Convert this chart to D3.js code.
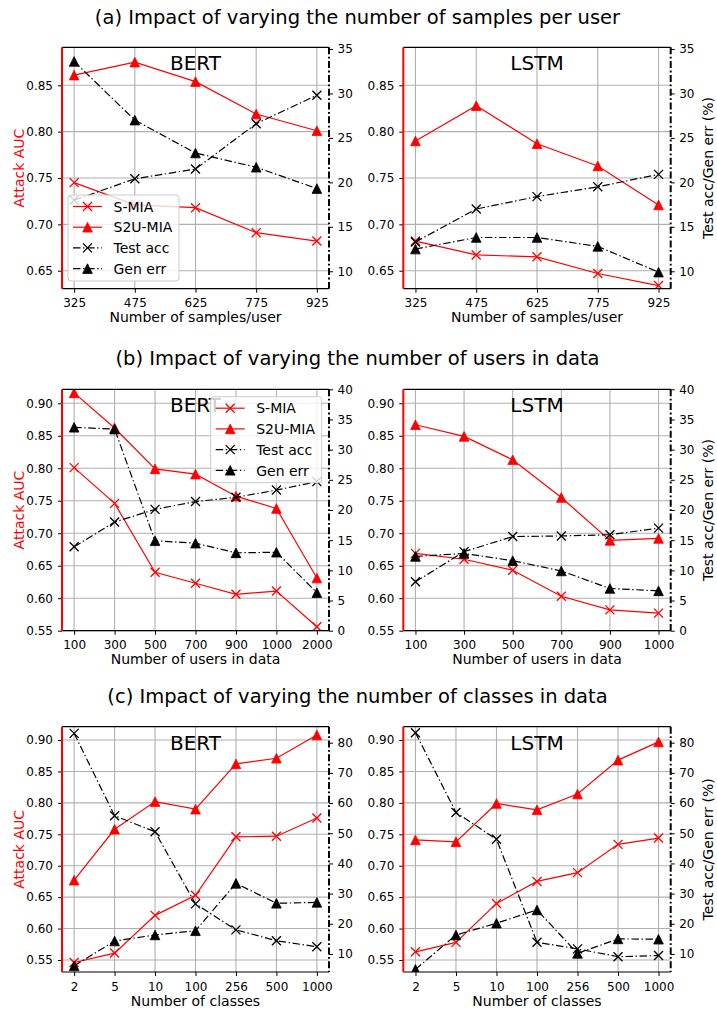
<!DOCTYPE html>
<html><head><meta charset="utf-8">
<script src="https://cdn.jsdelivr.net/npm/d3@7"></script>
<style>
body{margin:0;background:#fff}
svg{display:block}
text{font-family:"DejaVu Sans",sans-serif}
</style>
</head><body>
<svg id="chart" width="717" height="1011"></svg>
<script>
// ---------------- data ----------------
const titles = [
  "(a) Impact of varying the number of samples per user",
  "(b) Impact of varying the number of users in data",
  "(c) Impact of varying the number of classes in data"
];
const xLabels = ["Number of samples/user", "Number of users in data", "Number of classes"];
const seriesNames = ["S-MIA", "S2U-MIA", "Test acc", "Gen err"];

const samplesPerUser = [325, 475, 625, 775, 925];
const usersBert = ["100", "300", "500", "700", "900", "1000", "2000"];
const usersLstm = ["100", "300", "500", "700", "900", "1000"];
const classes = ["2", "5", "10", "100", "256", "500", "1000"];

const aAucTicks = [0.65, 0.70, 0.75, 0.80, 0.85];
const aPctTicks = [10, 15, 20, 25, 30, 35];
const bAucTicks = [0.55, 0.60, 0.65, 0.70, 0.75, 0.80, 0.85, 0.90];
const bPctTicks = [0, 5, 10, 15, 20, 25, 30, 35, 40];
const cAucTicks = [0.55, 0.60, 0.65, 0.70, 0.75, 0.80, 0.85, 0.90];
const cPctTicks = [10, 20, 30, 40, 50, 60, 70, 80];

// (a) samples per user
const aBertSMIA = [0.745, 0.721, 0.718, 0.691, 0.682];
const aBertS2U  = [0.861, 0.875, 0.854, 0.819, 0.801];
const aBertTest = [18.0, 20.4, 21.5, 26.6, 29.8];
const aBertGen  = [33.6, 27.0, 23.3, 21.7, 19.3];
const aLstmSMIA = [0.682, 0.667, 0.665, 0.647, 0.634];
const aLstmS2U  = [0.790, 0.828, 0.787, 0.763, 0.721];
const aLstmTest = [13.3, 17.0, 18.4, 19.5, 20.9];
const aLstmGen  = [12.5, 13.8, 13.8, 12.8, 9.9];

// (b) users in data
const bBertSMIA = [0.801, 0.746, 0.640, 0.623, 0.606, 0.611, 0.556];
const bBertS2U  = [0.916, 0.862, 0.799, 0.791, 0.757, 0.738, 0.631];
const bBertTest = [13.9, 18.0, 20.1, 21.4, 22.1, 23.3, 24.7];
const bBertGen  = [33.7, 33.4, 14.9, 14.5, 12.9, 13.0, 6.3];
const bLstmSMIA = [0.669, 0.660, 0.643, 0.603, 0.582, 0.577];
const bLstmS2U  = [0.867, 0.849, 0.813, 0.755, 0.689, 0.692];
const bLstmTest = [8.1, 13.1, 15.6, 15.7, 15.9, 17.0];
const bLstmGen  = [12.3, 12.8, 11.6, 9.9, 7.0, 6.6];

// (c) classes in data
const cBertSMIA = [0.546, 0.561, 0.621, 0.653, 0.746, 0.747, 0.776];
const cBertS2U  = [0.677, 0.758, 0.802, 0.790, 0.862, 0.871, 0.908];
const cBertTest = [83.1, 55.8, 50.5, 26.6, 18.0, 14.4, 12.4];
const cBertGen  = [6.1, 14.3, 16.3, 17.7, 33.4, 26.8, 27.1];
const cLstmSMIA = [0.563, 0.578, 0.640, 0.675, 0.689, 0.734, 0.744];
const cLstmS2U  = [0.741, 0.738, 0.799, 0.789, 0.814, 0.868, 0.897];
const cLstmTest = [83.3, 56.9, 48.0, 13.9, 11.7, 9.1, 9.5];
const cLstmGen  = [4.9, 16.3, 20.2, 24.6, 10.2, 15.0, 14.9];

// ---------------- layout ----------------
const RED = "#ff0000";
const DASHDOT = "7.5,2.6,1.4,2.6";
const svg = d3.select("#chart");
const LEFT = [62, 329], RIGHT = [403.3, 670.7];
const titleY = [24, 365, 703];

titles.forEach((t, i) => {
  svg.append("text").attr("x", 357.5).attr("y", titleY[i])
    .attr("text-anchor", "middle").attr("font-size", 19.5).attr("fill", "#000").text(t);
});

const panels = [
  {xr: LEFT, yr: [47.3, 288.7], xs: samplesPerUser, xl: samplesPerUser.map(String), xd: [295, 955],
   aucD: [0.6306, 0.891], pctD: [8.04, 35.19], aucT: aAucTicks, pctT: aPctTicks,
   d: [aBertSMIA, aBertS2U, aBertTest, aBertGen], model: "BERT", xlabel: xLabels[0], left: true, legend: "ll"},
  {xr: RIGHT, yr: [47.3, 288.7], xs: samplesPerUser, xl: samplesPerUser.map(String), xd: [295, 955],
   aucD: [0.6306, 0.891], pctD: [8.04, 35.19], aucT: aAucTicks, pctT: aPctTicks,
   d: [aLstmSMIA, aLstmS2U, aLstmTest, aLstmGen], model: "LSTM", xlabel: xLabels[0], right: true},
  {xr: LEFT, yr: [389.3, 630.7], xs: d3.range(usersBert.length), xl: usersBert, xd: [-0.3, 6.3],
   aucD: [0.55, 0.9215], pctD: [0, 40], aucT: bAucTicks, pctT: bPctTicks,
   d: [bBertSMIA, bBertS2U, bBertTest, bBertGen], model: "BERT", xlabel: xLabels[1], left: true, legend: "ur"},
  {xr: RIGHT, yr: [389.3, 630.7], xs: d3.range(usersLstm.length), xl: usersLstm, xd: [-0.25, 5.25],
   aucD: [0.55, 0.9215], pctD: [0, 40], aucT: bAucTicks, pctT: bPctTicks,
   d: [bLstmSMIA, bLstmS2U, bLstmTest, bLstmGen], model: "LSTM", xlabel: xLabels[1], right: true},
  {xr: LEFT, yr: [726.7, 972], xs: d3.range(classes.length), xl: classes, xd: [-0.3, 6.3],
   aucD: [0.5309, 0.9212], pctD: [4.04, 85.3], aucT: cAucTicks, pctT: cPctTicks,
   d: [cBertSMIA, cBertS2U, cBertTest, cBertGen], model: "BERT", xlabel: xLabels[2], left: true},
  {xr: RIGHT, yr: [726.7, 972], xs: d3.range(classes.length), xl: classes, xd: [-0.3, 6.3],
   aucD: [0.5309, 0.9212], pctD: [4.04, 85.3], aucT: cAucTicks, pctT: cPctTicks,
   d: [cLstmSMIA, cLstmS2U, cLstmTest, cLstmGen], model: "LSTM", xlabel: xLabels[2], right: true}
];

const styles = [
  {color: RED, dash: null, marker: "x"},
  {color: RED, dash: null, marker: "tri"},
  {color: "#000", dash: DASHDOT, marker: "x"},
  {color: "#000", dash: DASHDOT, marker: "tri"}
];

function drawMarker(g, type, cx, cy, color) {
  if (type === "tri") {
    const s = 9.6 / 2;
    g.append("path").attr("d", `M${cx},${cy - s}L${cx - s},${cy + s}L${cx + s},${cy + s}Z`)
      .attr("fill", color).attr("stroke", color).attr("stroke-width", 0.8);
  } else {
    const s = 4.5;
    g.append("path").attr("d", `M${cx - s},${cy - s}L${cx + s},${cy + s}M${cx - s},${cy + s}L${cx + s},${cy - s}`)
      .attr("fill", "none").attr("stroke", color).attr("stroke-width", 1.3);
  }
}

panels.forEach((p, pi) => {
  const [x0, x1] = p.xr, [y0, y1] = p.yr;
  const x = d3.scaleLinear().domain(p.xd).range([x0, x1]);
  const yA = d3.scaleLinear().domain(p.aucD).range([y1, y0]);
  const yP = d3.scaleLinear().domain(p.pctD).range([y1, y0]);
  const g = svg.append("g");
  const clipId = "clip" + pi;
  g.append("clipPath").attr("id", clipId).append("rect")
    .attr("x", x0).attr("y", y0).attr("width", x1 - x0).attr("height", y1 - y0);

  // grid
  const grid = g.append("g").attr("stroke", "#b0b0b0").attr("stroke-width", 1.1);
  p.xs.forEach(v => grid.append("line").attr("x1", x(v)).attr("x2", x(v)).attr("y1", y0).attr("y2", y1));
  p.aucT.forEach(v => grid.append("line").attr("x1", x0).attr("x2", x1).attr("y1", yA(v)).attr("y2", yA(v)));

  // series
  const data = g.append("g").attr("clip-path", `url(#${clipId})`);
  p.d.forEach((vals, si) => {
    const st = styles[si];
    const ys = si < 2 ? yA : yP;
    const pts = vals.map((v, i) => [x(p.xs[i]), ys(v)]);
    data.append("path").attr("d", d3.line()(pts)).attr("fill", "none")
      .attr("stroke", st.color).attr("stroke-width", 1.2)
      .attr("stroke-dasharray", st.dash);
    pts.forEach(pt => drawMarker(data, st.marker, pt[0], pt[1], st.color));
  });

  // model label
  g.append("text").attr("x", (x0 + x1) / 2).attr("y", y0 + 23).attr("text-anchor", "middle")
    .attr("font-size", 20).attr("fill", "#000").text(p.model);

  // axes
  const xa = g.append("g").attr("transform", `translate(0,${y1})`)
    .call(d3.axisBottom(x).tickValues(p.xs).tickFormat((d, i) => p.xl[i]).tickSize(4).tickPadding(6));
  const la = g.append("g").attr("transform", `translate(${x0},0)`)
    .call(d3.axisLeft(yA).tickValues(p.aucT).tickFormat(d3.format(".2f")).tickSize(4).tickPadding(5));
  const ra = g.append("g").attr("transform", `translate(${x1},0)`)
    .call(d3.axisRight(yP).tickValues(p.pctT).tickFormat(d3.format("d")).tickSize(4).tickPadding(4.5));
  [xa, la, ra].forEach(a => {
    a.select(".domain").remove();
    a.selectAll("text").attr("font-size", 12).attr("fill", "#000").style("font-family", '"DejaVu Sans",sans-serif');
    a.selectAll("line").attr("stroke", "#000").attr("stroke-width", 1);
  });

  // spines
  g.append("line").attr("x1", x0).attr("x2", x1).attr("y1", y0).attr("y2", y0).attr("stroke", "#000").attr("stroke-width", 1.2);
  g.append("line").attr("x1", x0).attr("x2", x1).attr("y1", y1).attr("y2", y1).attr("stroke", "#000").attr("stroke-width", 1.2);
  g.append("line").attr("x1", x1).attr("x2", x1).attr("y1", y0).attr("y2", y1).attr("stroke", "#000").attr("stroke-width", 2)
    .attr("stroke-dasharray", "7,2.5,1.8,2.5");
  g.append("line").attr("x1", x0).attr("x2", x0).attr("y1", y0).attr("y2", y1).attr("stroke", RED).attr("stroke-width", 2);

  // axis labels
  g.append("text").attr("x", (x0 + x1) / 2).attr("y", y1 + 33.5).attr("text-anchor", "middle")
    .attr("font-size", 14).attr("fill", "#000").text(p.xlabel);
  if (p.left) {
    g.append("text").attr("transform", `translate(23.5,${(y0 + y1) / 2}) rotate(-90)`)
      .attr("text-anchor", "middle").attr("font-size", 14).attr("fill", RED).text("Attack AUC");
  }
  if (p.right) {
    g.append("text").attr("transform", `translate(713,${(y0 + y1) / 2}) rotate(-90)`)
      .attr("text-anchor", "middle").attr("font-size", 14).attr("fill", "#000").text("Test acc/Gen err (%)");
  }

  // legend
  if (p.legend) {
    const w = 111, h = 86, rowH = 20.7;
    const lx = p.legend === "ll" ? x0 + 6 : x1 - 7.3 - w;
    const ly = p.legend === "ll" ? y1 - 7.7 - h : y0 + 7.4;
    const lg = g.append("g");
    lg.append("rect").attr("x", lx).attr("y", ly).attr("width", w).attr("height", h)
      .attr("rx", 3).attr("fill", "#fff").attr("fill-opacity", 0.8)
      .attr("stroke", "#cccccc").attr("stroke-width", 1);
    seriesNames.forEach((name, i) => {
      const cy = ly + 11.5 + i * rowH;
      const st = styles[i];
      lg.append("line").attr("x1", lx + 5).attr("x2", lx + 34).attr("y1", cy).attr("y2", cy)
        .attr("stroke", st.color).attr("stroke-width", 1.2).attr("stroke-dasharray", st.dash);
      drawMarker(lg, st.marker, lx + 19.5, cy, st.color);
      lg.append("text").attr("x", lx + 45.5).attr("y", cy + 5.2).attr("font-size", 14)
        .attr("fill", "#000").text(name);
    });
  }
});
</script>
</body></html>
